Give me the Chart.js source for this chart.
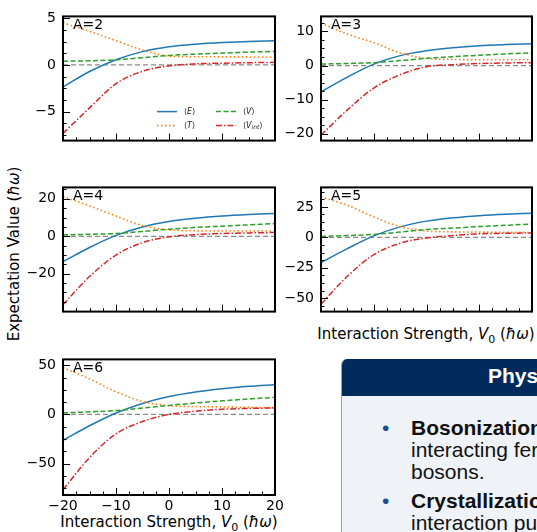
<!DOCTYPE html>
<html>
<head>
<meta charset="utf-8">
<script src="https://cdn.jsdelivr.net/npm/chart.js@4.4.0/dist/chart.umd.min.js"></script>
<style>
  body { margin: 0; width: 537px; height: 532px; overflow: hidden; position: relative; background: #fff; font-family: "DejaVu Sans", sans-serif; }
  canvas { position: absolute; }
  .lbl { position: absolute; white-space: nowrap; font-size: 15px; color: #000; transform: translate(-50%, -50%); }
  .ylbl { transform: translate(-50%, -50%) rotate(-90deg); }
  .box { position: absolute; left: 341px; top: 359px; width: 260px; height: 180px; border-top-left-radius: 6px; overflow: hidden; background: #eff3f7; border-left: 1.5px solid #8da2bc; font-family: "Liberation Sans", Arial, sans-serif; }
  .box .head { position: absolute; left: 0; top: 0; width: 100%; height: 37px; background: #022b5d; }
  .box .head span { position: absolute; left: 146px; top: 5px; color: #fff; font-weight: bold; font-size: 21px; white-space: nowrap; }
  .box .item { position: absolute; left: 0; font-size: 21px; line-height: 22px; color: #111; white-space: nowrap; }
  .box .dot { position: absolute; left: 40px; color: #1b4d8e; }
  .box .txt { position: absolute; left: 69px; }
</style>
</head>
<body>

<div class="lbl ylbl" style="left:14px; top:254px;">Expectation Value (<i>ħω</i>)</div>
<div class="lbl" style="left:426px; top:335px;">Interaction Strength, <i>V</i><sub style="font-size:11px">0</sub> (<i>ħω</i>)</div>
<div class="lbl" style="left:169px; top:523px;">Interaction Strength, <i>V</i><sub style="font-size:11px">0</sub> (<i>ħω</i>)</div>

<div class="box">
  <div class="head"><span>Physical Insights</span></div>
  <div class="item" style="top:58px;">
    <span class="dot">•</span>
    <div class="txt"><b>Bosonization:</b> Strongly<br>interacting fermions map onto<br>bosons.</div>
  </div>
  <div class="item" style="top:131px;">
    <span class="dot">•</span>
    <div class="txt"><b>Crystallization:</b> Strong repulsive<br>interaction pushes particles apart.</div>
  </div>
</div>

<script>
// interaction strength grid (x values)
const v0 = [-20, -15, -10, -5, 0, 5, 10, 15, 20];

// A = 2
const eA2 = [-2.36, -0.7, 0.56, 1.43, 1.95, 2.23, 2.40, 2.50, 2.58];
const tA2 = [4.5, 3.6, 2.6, 1.6, 0.95, 0.88, 0.87, 0.86, 0.85];
const vA2 = [0.4, 0.45, 0.56, 0.78, 1.02, 1.16, 1.27, 1.37, 1.46];
const vintA2 = [-7.33, -4.6, -2.0, -0.68, -0.1, 0.12, 0.19, 0.24, 0.28];
// A = 3
const eA3 = [-7.7, -3.4, 0.4, 2.9, 4.3, 5.2, 5.8, 6.15, 6.4];
const tA3 = [12.4, 9.2, 6.7, 3.7, 2.1, 1.8, 1.7, 1.7, 1.7];
const vA3 = [0.43, 0.6, 0.85, 1.45, 2.1, 2.6, 3.0, 3.4, 3.7];
const vintA3 = [-20.4, -13.0, -6.6, -2.7, -0.34, 0.26, 0.6, 0.75, 0.85];
// A = 4
const eA4 = [-13.5, -6.0, 0.5, 5.0, 7.9, 9.6, 10.8, 11.6, 12.2];
const tA4 = [21.2, 16.2, 10.8, 5.7, 3.4, 2.9, 2.8, 2.8, 2.8];
const vA4 = [0.8, 1.1, 1.5, 2.6, 3.8, 4.7, 5.4, 6.1, 6.8];
const vintA4 = [-36.5, -21.5, -10, -3.4, -0.3, 0.9, 1.5, 1.8, 2.0];
// A = 5
const eA5 = [-20.7, -9.3, 1.2, 8.6, 13.3, 16.0, 17.8, 19.0, 19.8];
const tA5 = [33.3, 26.2, 16.7, 8.8, 5.2, 4.5, 4.3, 4.1, 4.0];
const vA5 = [0.7, 1.4, 2.4, 4.3, 6.4, 7.6, 8.8, 9.9, 11];
const vintA5 = [-54.8, -32, -14.3, -4.8, -0.5, 1.4, 2.9, 3.3, 3.6];
// A = 6
const eA6 = [-26.3, -11.5, 1.5, 11.2, 18.2, 22.9, 26.2, 28.6, 30.3];
const tA6 = [47.7, 36.2, 23, 13.2, 8.9, 8.0, 7.6, 7.2, 6.9];
const vA6 = [1.6, 2.6, 3.9, 6.6, 9.2, 11.6, 13.8, 15.7, 17.4];
const vintA6 = [-76.6, -44, -19.7, -7.2, 0, 3.3, 5.3, 6.1, 6.6];

// tick labels and ranges
const xTicks = [-20, -10, 0, 10, 20];
const yTicksA2 = [-5, 0, 5],          yRangeA2 = [-8.1, 5.2];
const yTicksA3 = [-20, -10, 0, 10],   yRangeA3 = [-22, 14.4];
const yTicksA4 = [-20, 0, 20],        yRangeA4 = [-40.2, 26.1];
const yTicksA5 = [-50, -25, 0, 25],   yRangeA5 = [-61, 41];
const yTicksA6 = [-50, 0, 50],        yRangeA6 = [-82, 56];

const panels = [
  {A: 2, e: eA2, t: tA2, v: vA2, vi: vintA2, yt: yTicksA2, yr: yRangeA2, left: 63, top: 11, w: 212, bottom: 4, legend: true},
  {A: 3, e: eA3, t: tA3, v: vA3, vi: vintA3, yt: yTicksA3, yr: yRangeA3, left: 321, top: 11, w: 211, bottom: 4},
  {A: 4, e: eA4, t: tA4, v: vA4, vi: vintA4, yt: yTicksA4, yr: yRangeA4, left: 63, top: 182, w: 212, bottom: 4},
  {A: 5, e: eA5, t: tA5, v: vA5, vi: vintA5, yt: yTicksA5, yr: yRangeA5, left: 321, top: 182, w: 211, bottom: 4},
  {A: 6, e: eA6, t: tA6, v: vA6, vi: vintA6, yt: yTicksA6, yr: yRangeA6, left: 63, top: 354, w: 212, bottom: 26, xlabels: true}
];
const plotH = 141;
const padL = 62, padT = 10, padR = 14;

const fmt = v => (v < 0 ? '\u2212' + Math.abs(v) : '' + v);
const pts = ys => v0.map((x, i) => ({x: x, y: ys[i]}));

// draws "<E>" style labels with italic pieces
function mathLabel(ctx, x, y, parts) {
  let cx = x;
  parts.forEach(p => {
    ctx.font = (p.it ? 'italic ' : '') + (p.sub ? '6px' : '8px') + ' "DejaVu Sans"';
    ctx.fillText(p.s, cx, y + (p.sub ? 2 : 0));
    cx += ctx.measureText(p.s).width;
  });
}

const axesPlugin = {
  id: 'axesPlugin',
  afterDraw(chart) {
    const ctx = chart.ctx, a = chart.chartArea;
    const sx = chart.scales.x, sy = chart.scales.y;
    const cfg = chart.options.plugins.axesPlugin;
    ctx.save();
    ctx.strokeStyle = '#000';
    ctx.lineWidth = 1;
    // x ticks, pointing in
    for (let v = -20; v <= 20; v += 2.5) {
      const px = Math.round(sx.getPixelForValue(v)) + 0.5;
      const len = v % 10 === 0 ? 7 : 3.5;
      ctx.beginPath(); ctx.moveTo(px, a.bottom); ctx.lineTo(px, a.bottom - len); ctx.stroke();
    }
    // y ticks
    const major = cfg.yt[1] - cfg.yt[0], minor = major / 4;
    for (let v = Math.ceil(sy.min / minor) * minor; v <= sy.max; v += minor) {
      const py = Math.round(sy.getPixelForValue(v)) + 0.5;
      const isMajor = Math.abs(v / major - Math.round(v / major)) < 1e-6;
      const len = isMajor ? 7 : 3.5;
      ctx.beginPath(); ctx.moveTo(a.left, py); ctx.lineTo(a.left + len, py); ctx.stroke();
    }
    // frame
    ctx.lineWidth = 2;
    ctx.strokeRect(a.left, a.top, a.right - a.left, a.bottom - a.top);
    // panel label
    ctx.fillStyle = '#000';
    ctx.font = '14px "DejaVu Sans"';
    ctx.textBaseline = 'alphabetic';
    ctx.fillText('A=' + cfg.A, a.left + 10, a.top + 13);

    if (cfg.legend) {
      const ds = chart.data.datasets;
      const items = [
        {d: ds[3], x: a.right - 118, y: a.bottom - 29, p: [{s: '\u27E8'}, {s: 'E', it: 1}, {s: '\u27E9'}]},
        {d: ds[2], x: a.right - 118, y: a.bottom - 15, p: [{s: '\u27E8'}, {s: 'T', it: 1}, {s: '\u27E9'}]},
        {d: ds[1], x: a.right - 59, y: a.bottom - 29, p: [{s: '\u27E8'}, {s: 'V', it: 1}, {s: '\u27E9'}]},
        {d: ds[0], x: a.right - 59, y: a.bottom - 15, p: [{s: '\u27E8'}, {s: 'V', it: 1}, {s: 'int', it: 1, sub: 1}, {s: '\u27E9'}]}
      ];
      ctx.textBaseline = 'middle';
      items.forEach(it => {
        ctx.strokeStyle = it.d.borderColor;
        ctx.lineWidth = it.d.borderWidth;
        ctx.setLineDash(it.d.borderDash || []);
        ctx.beginPath(); ctx.moveTo(it.x, it.y); ctx.lineTo(it.x + 20, it.y); ctx.stroke();
        ctx.setLineDash([]);
        ctx.fillStyle = '#222';
        mathLabel(ctx, it.x + 27, it.y, it.p);
      });
    }
    ctx.restore();
  }
};

panels.forEach(p => {
  const cv = document.createElement('canvas');
  const W = padL + p.w + padR, H = padT + plotH + p.bottom;
  cv.width = W; cv.height = H;
  cv.style.left = (p.left - padL) + 'px';
  cv.style.top = (p.top - padT) + 'px';
  cv.style.width = W + 'px'; cv.style.height = H + 'px';
  document.body.appendChild(cv);

  new Chart(cv, {
    type: 'line',
    data: {
      datasets: [
        {data: pts(p.vi), borderColor: '#d62728', borderWidth: 1.5, borderDash: [6, 2, 1.5, 2]},
        {data: pts(p.v), borderColor: '#2ca02c', borderWidth: 1.5, borderDash: [5, 2.5]},
        {data: pts(p.t), borderColor: '#ff7f0e', borderWidth: 1.6, borderDash: [1.5, 2.5]},
        {data: pts(p.e), borderColor: '#1f77b4', borderWidth: 1.5},
        {data: pts(v0.map(() => 0)), borderColor: '#8a8a8a', borderWidth: 1.2, borderDash: [5, 3]}
      ]
    },
    options: {
      responsive: false,
      animation: false,
      devicePixelRatio: 1,
      layout: {padding: {top: padT, right: padR, left: 0, bottom: 0}},
      elements: {point: {radius: 0}, line: {cubicInterpolationMode: 'monotone', fill: false}},
      plugins: {
        legend: {display: false},
        tooltip: {enabled: false},
        axesPlugin: {A: p.A, yt: p.yt, legend: !!p.legend}
      },
      scales: {
        x: {
          type: 'linear', min: -20, max: 20,
          grid: {display: false, drawTicks: false},
          border: {display: false},
          afterBuildTicks: s => { s.ticks = xTicks.map(v => ({value: v})); },
          afterFit: s => { s.height = p.bottom; },
          ticks: {display: !!p.xlabels, padding: 3, color: '#000', font: {family: 'DejaVu Sans', size: 14}, callback: fmt, maxRotation: 0, autoSkip: false}
        },
        y: {
          type: 'linear', min: p.yr[0], max: p.yr[1],
          grid: {display: false, drawTicks: false},
          border: {display: false},
          afterBuildTicks: s => { s.ticks = p.yt.map(v => ({value: v})); },
          afterFit: s => { s.width = padL; },
          ticks: {padding: 7, color: '#000', font: {family: 'DejaVu Sans', size: 14}, callback: fmt, autoSkip: false}
        }
      }
    },
    plugins: [axesPlugin]
  });
});
</script>
</body>
</html>
